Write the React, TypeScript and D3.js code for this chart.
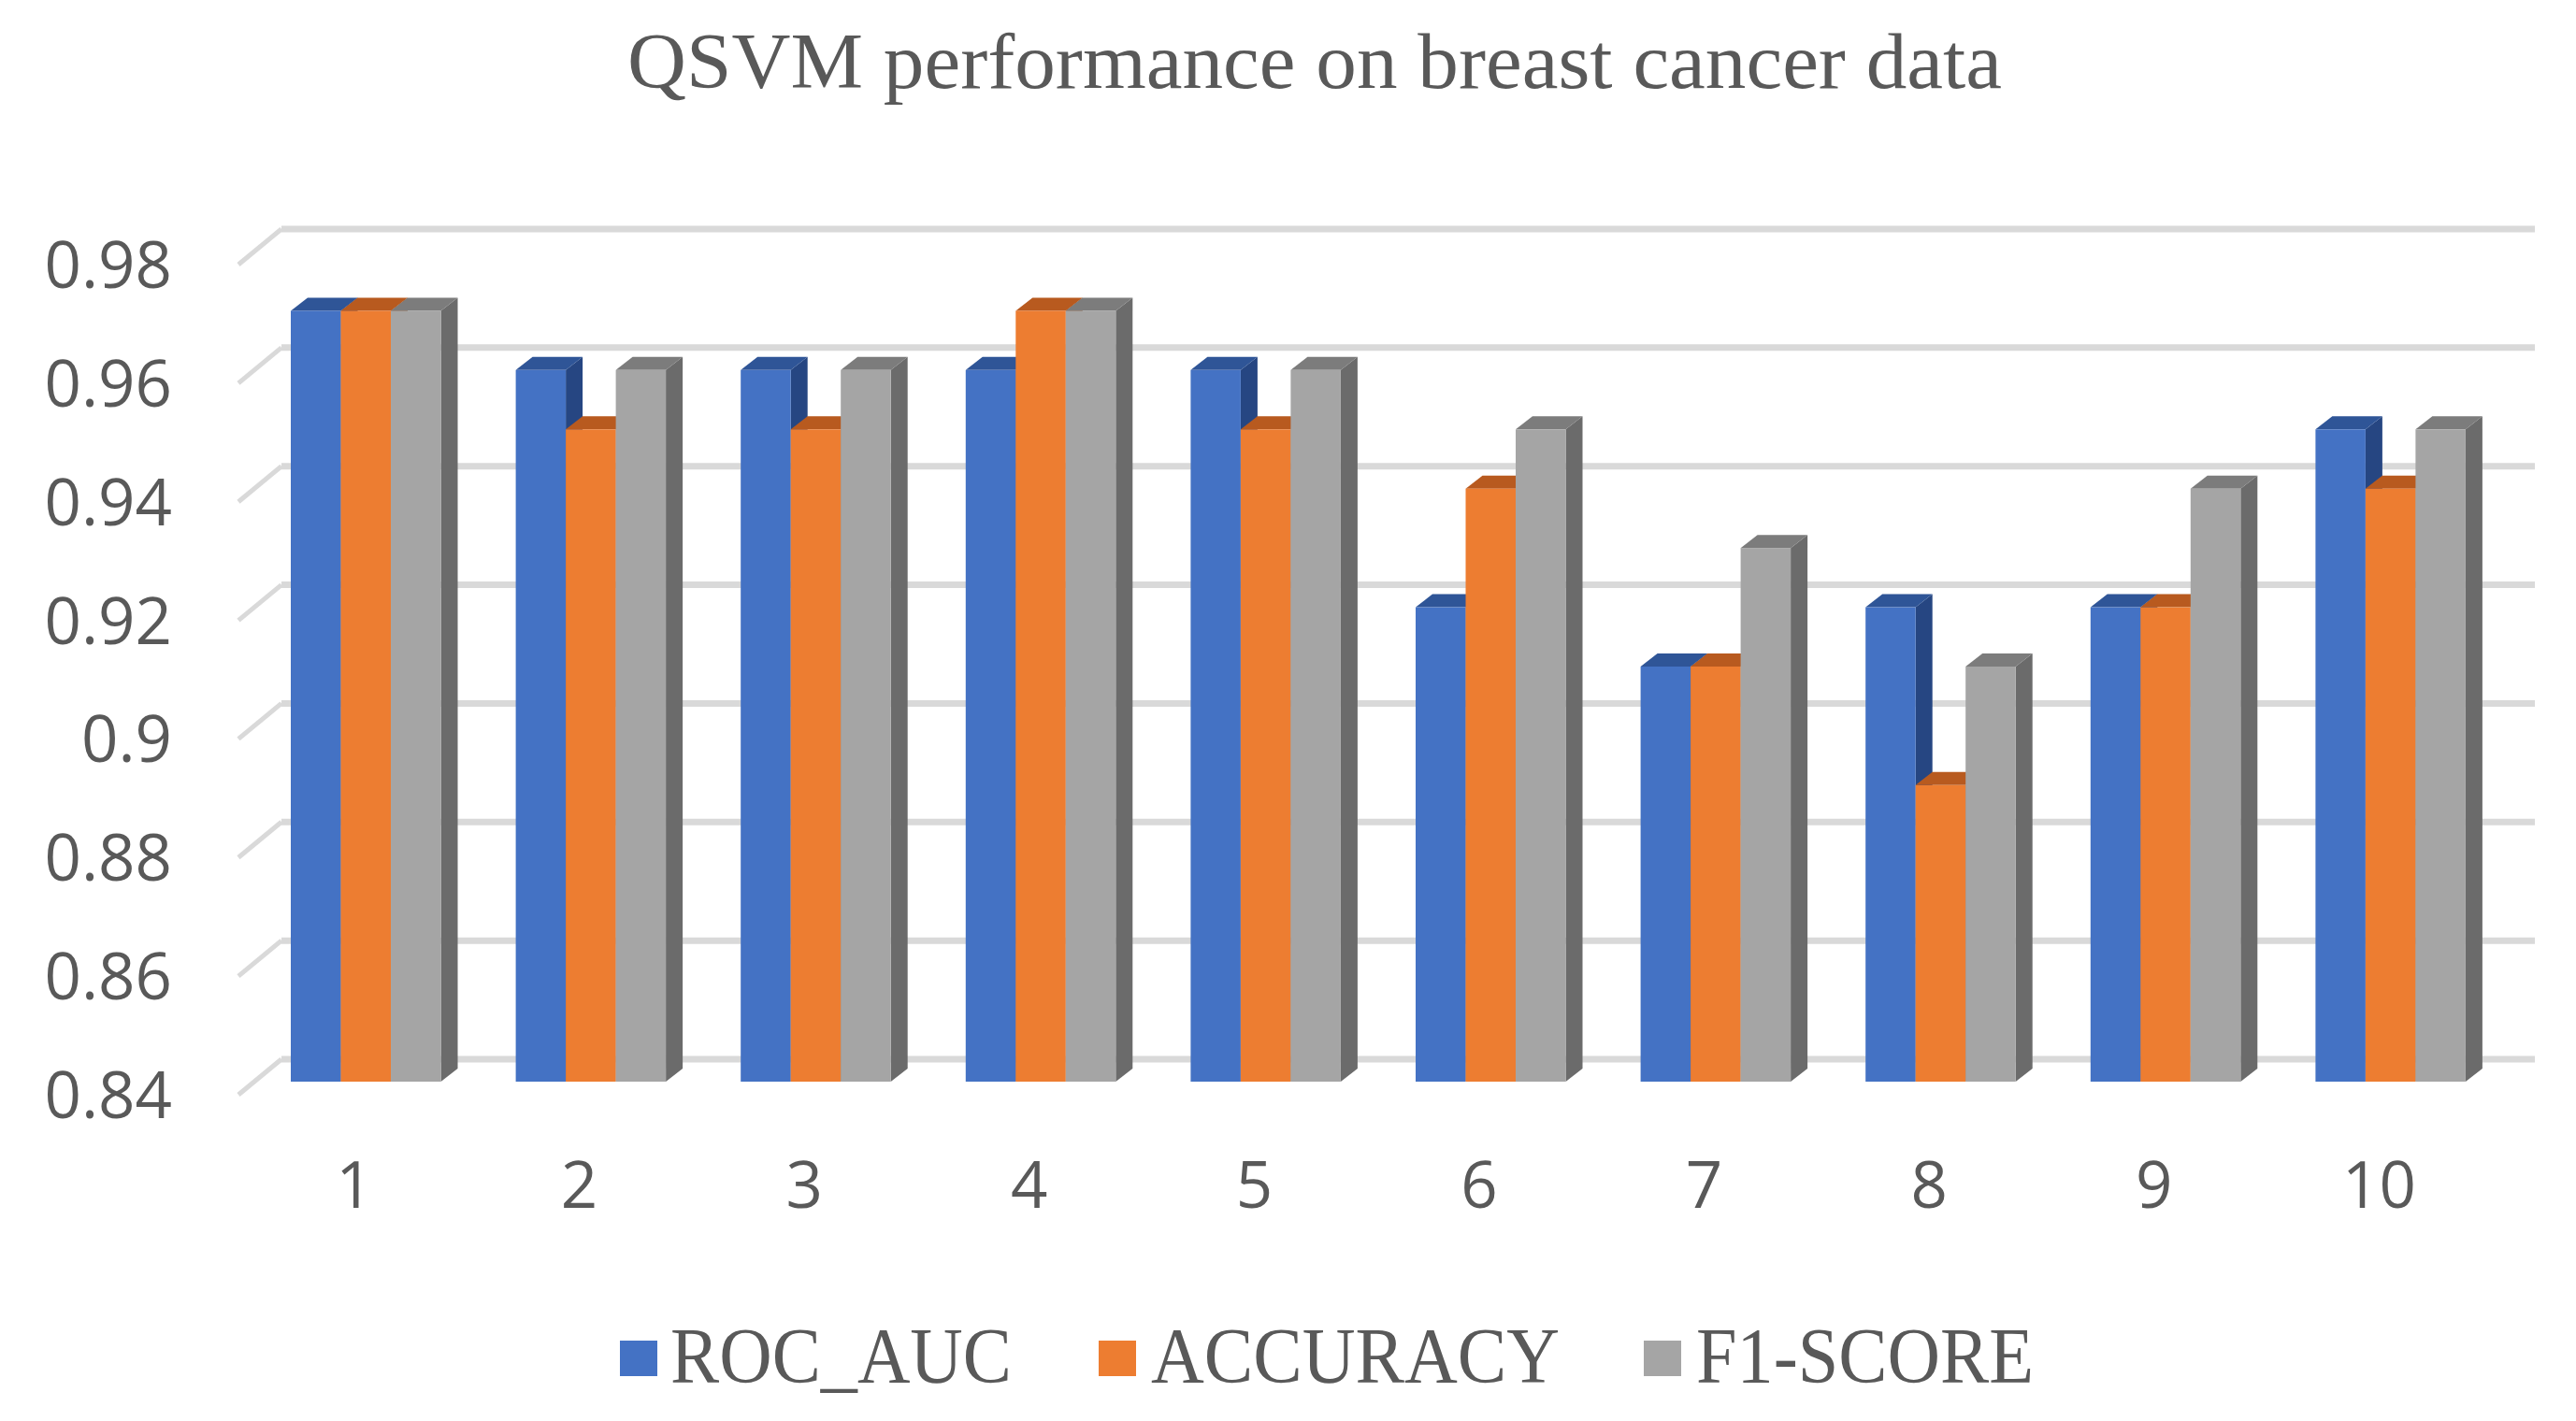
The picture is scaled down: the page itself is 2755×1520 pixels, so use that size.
import * as d3 from "d3";

const categories = ["1", "2", "3", "4", "5", "6", "7", "8", "9", "10"];
const seriesNames = ["ROC_AUC", "ACCURACY", "F1-SCORE"];
const rocAuc = [0.97, 0.96, 0.96, 0.96, 0.96, 0.92, 0.91, 0.92, 0.92, 0.95];
const accuracy = [0.97, 0.95, 0.95, 0.97, 0.95, 0.94, 0.91, 0.89, 0.92, 0.94];
const f1Score = [0.97, 0.96, 0.96, 0.97, 0.96, 0.95, 0.93, 0.91, 0.94, 0.95];
const yTicks = [0.84, 0.86, 0.88, 0.9, 0.92, 0.94, 0.96, 0.98];

const W = 2755;
const H = 1520;
const SERIF = "'Liberation Serif', 'Times New Roman', serif";
const SANS = "'Open Sans', 'Noto Sans', sans-serif";
const TEXT = "#595959";
const GRID = "#d9d9d9";

const front = ["#4472c4", "#ed7d31", "#a5a5a5"];
const top = ["#2f5597", "#b85a1f", "#7c7c7c"];
const side = ["#264682", "#a04e1a", "#6b6b6b"];
const values = [rocAuc, accuracy, f1Score];

// back wall of the 3D box; bars and labels sit in front of it
const y = d3.scaleLinear().domain([0.84, 0.98]).range([1133, 245]);
const x0 = d3.scaleBand().domain(categories).range([258.7, 2664.7]);
const x1 = d3.scaleBand().domain(seriesNames).range([52.3, 212.8]);

const wallLeft = 301;
const wallRight = 2711;
const floorDx = 46;
const floorDy = 38;
const barFrontDy = 24;
const depthX = 18;
const depthY = 14;

const legendItems = [
  { swatch: 663, text: 717, length: 365 },
  { swatch: 1175, text: 1231, length: 437 },
  { swatch: 1758, text: 1814, length: 361 },
];

function poly(pts: number[][]) {
  return pts.map((p) => p.join(",")).join(" ");
}

export default function App() {
  const base = y(0.84) + barFrontDy;
  return (
    <svg
      width={W}
      height={H}
      viewBox={`0 0 ${W} ${H}`}
      style={{ position: "absolute", left: 0, top: 0, background: "#fff" }}
    >
      <text
        x={671}
        y={94}
        fontFamily={SERIF}
        fontSize={84}
        fill={TEXT}
        textLength={1470}
        lengthAdjust="spacingAndGlyphs"
      >
        QSVM performance on breast cancer data
      </text>

      {/* Grid */}
      {yTicks.map((t) => (
        <g key={t} fill="none" stroke={GRID}>
          <line x1={wallLeft} x2={wallRight} y1={y(t)} y2={y(t)} strokeWidth={7} />
          <line
            x1={wallLeft - floorDx}
            y1={y(t) + floorDy}
            x2={wallLeft}
            y2={y(t)}
            strokeWidth={5}
          />
        </g>
      ))}

      {/* Y labels */}
      {yTicks.map((t) => (
        <text
          key={t}
          x={184}
          y={y(t) + floorDy + 25}
          textAnchor="end"
          fontFamily={SANS}
          fontSize={69}
          fill={TEXT}
        >
          {String(t)}
        </text>
      ))}

      {/* Bars */}
      {categories.map((c, ci) => (
        <g key={c}>
          {seriesNames.map((s, si) => {
            const bx = (x0(c) as number) + (x1(s) as number);
            const bw = x1.bandwidth();
            const by = y(values[si][ci]) + barFrontDy;
            return (
              <g key={s}>
                <polygon
                  points={poly([
                    [bx + bw, by],
                    [bx + bw + depthX, by - depthY],
                    [bx + bw + depthX, base - depthY],
                    [bx + bw, base],
                  ])}
                  fill={side[si]}
                />
                <polygon
                  points={poly([
                    [bx, by],
                    [bx + depthX, by - depthY],
                    [bx + bw + depthX, by - depthY],
                    [bx + bw, by],
                  ])}
                  fill={top[si]}
                />
                <rect x={bx} y={by} width={bw} height={base - by} fill={front[si]} />
              </g>
            );
          })}
        </g>
      ))}

      {/* X labels */}
      {categories.map((c) => (
        <text
          key={c}
          x={(x0(c) as number) + x0.bandwidth() / 2}
          y={1292}
          textAnchor="middle"
          fontFamily={SANS}
          fontSize={69}
          fill={TEXT}
        >
          {c}
        </text>
      ))}

      {/* Legend */}
      {seriesNames.map((s, i) => (
        <g key={s}>
          <rect x={legendItems[i].swatch} y={1434} width={40} height={38} fill={front[i]} />
          <text
            x={legendItems[i].text}
            y={1479}
            fontFamily={SERIF}
            fontSize={84}
            fill={TEXT}
            textLength={legendItems[i].length}
            lengthAdjust="spacingAndGlyphs"
          >
            {s}
          </text>
        </g>
      ))}
    </svg>
  );
}
